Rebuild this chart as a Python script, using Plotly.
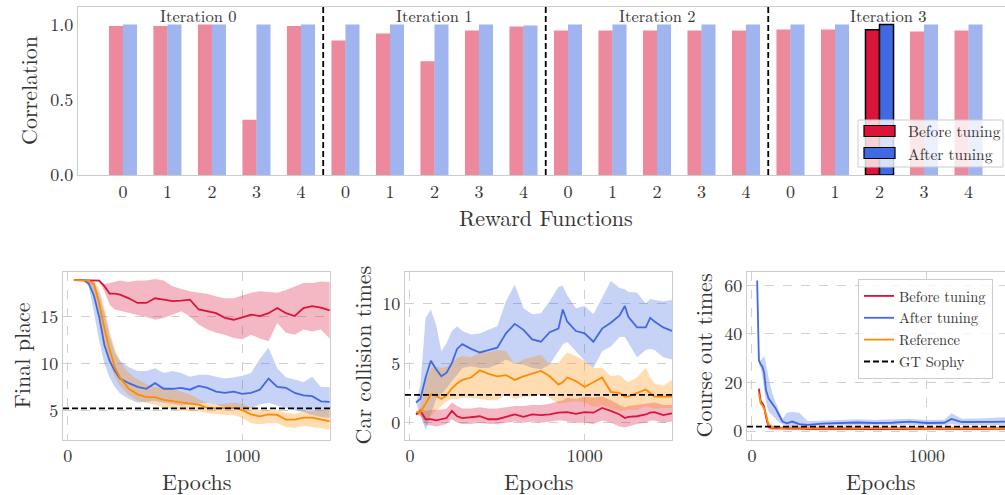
import numpy as np
import plotly.graph_objects as go

W, H = 1005, 495
FONT = "Latin Modern Roman"
TXT = "#333333"
FRAME = "#cccccc"
GRID = "#d0d0d0"

# ---------------- top chart data ----------------
iteration_names = ["Iteration 0", "Iteration 1", "Iteration 2", "Iteration 3"]
reward_fn_labels = ["0", "1", "2", "3", "4"]
corr_before = [0.99, 0.99, 1.0, 0.367, 0.99,
               0.894, 0.94, 0.755, 0.96, 0.987,
               0.96, 0.96, 0.96, 0.96, 0.96,
               0.967, 0.967, 0.965, 0.954, 0.96]
corr_after = [1.0, 1.0, 1.0, 1.0, 1.0,
              1.0, 1.0, 1.0, 1.0, 0.993,
              1.0, 1.0, 1.0, 1.0, 1.0,
              1.0, 1.0, 1.0, 1.0, 1.0]
highlight = (3, 2)  # (iteration, reward function)
iter_label_x = [1.7, 7.0, 12.02, 17.21]

# ---------------- bottom panels data ----------------
# Panel 1: Final place
ep1 = [35, 60, 90, 120, 150, 180, 210, 240, 270, 300, 350, 400, 450, 500, 550, 600, 650,
       700, 750, 800, 850, 900, 950, 1000, 1050, 1100, 1150, 1200, 1250, 1300, 1350, 1400, 1450, 1500]
fp_before = [18.95, 18.95, 18.95, 18.95, 18.95, 18.9, 18.3, 17.5, 17.5, 17.4, 17.0, 16.5, 16.5, 17.0,
             16.85, 16.7, 16.75, 16.85, 15.8, 15.6, 15.4, 14.9, 14.7, 14.95, 15.25, 15.1, 15.4, 15.95,
             15.4, 15.1, 15.95, 16.15, 16.0, 15.7]
fp_before_hi = [18.95, 18.95, 18.95, 18.95, 18.95, 19.0, 18.5, 18.65, 18.8, 18.9, 18.75, 18.9, 18.9, 19.07,
                18.9, 18.3, 18.0, 17.75, 17.6, 17.5, 17.2, 17.0, 17.0, 17.3, 17.6, 17.75, 17.7, 17.6,
                17.9, 18.3, 18.65, 18.65, 18.8, 18.75]
fp_before_lo = [18.95, 18.95, 18.95, 18.95, 18.9, 18.8, 17.75, 16.3, 15.8, 15.6, 15.4, 15.2, 15.0, 14.7,
                14.9, 15.25, 15.6, 15.05, 14.2, 13.65, 13.3, 13.1, 12.75, 12.6, 13.1, 12.7, 12.4, 14.35,
                13.3, 13.1, 13.65, 13.45, 13.65, 12.7]
fp_after = [18.95, 18.95, 18.95, 18.6, 17.3, 15.0, 12.0, 10.3, 9.2, 8.4, 7.9, 7.5, 7.3, 7.9, 7.3, 7.3,
            7.4, 7.2, 7.6, 7.4, 7.0, 6.85, 7.0, 6.75, 6.85, 7.2, 8.4, 7.5, 7.4, 6.85, 6.6, 6.5, 5.95, 5.9]
fp_after_hi = [18.95, 18.95, 19.0, 19.0, 18.8, 17.5, 15.5, 13.0, 11.2, 10.3, 9.6, 9.2, 9.2, 9.5, 9.0, 9.2,
               9.0, 8.6, 8.8, 8.8, 8.6, 8.4, 8.5, 8.7, 9.0, 10.5, 11.7, 9.5, 8.5, 8.3, 8.0, 8.6, 7.5, 7.5]
fp_after_lo = [18.95, 18.95, 18.9, 18.3, 15.5, 12.5, 10.0, 8.5, 7.5, 6.8, 6.2, 5.8, 5.9, 6.0, 5.8, 5.7,
               5.5, 5.6, 5.7, 5.8, 5.6, 5.3, 5.3, 5.1, 5.2, 5.6, 5.8, 5.5, 5.3, 5.0, 4.8, 4.5, 4.3, 4.2]
fp_ref = [18.95, 18.95, 18.95, 18.9, 18.5, 16.5, 13.8, 11.5, 9.6, 8.5, 7.3, 6.7, 6.4, 6.4, 6.1, 5.95,
          5.8, 5.7, 5.6, 5.25, 5.2, 5.25, 5.25, 5.0, 4.55, 4.35, 4.55, 4.5, 4.0, 4.0, 4.2, 4.2, 4.0, 3.8]
fp_ref_hi = [18.95, 18.95, 19.0, 19.0, 19.0, 18.0, 16.0, 13.5, 11.5, 10.2, 9.0, 8.3, 7.8, 7.5, 7.4, 7.3,
             7.0, 6.7, 6.2, 5.8, 5.6, 5.7, 5.8, 5.7, 5.3, 5.0, 5.0, 5.0, 4.7, 4.6, 4.9, 4.9, 5.0, 5.2]
fp_ref_lo = [18.95, 18.95, 18.9, 18.8, 17.5, 15.0, 12.0, 10.0, 8.6, 7.6, 6.6, 6.0, 5.8, 5.6, 5.3, 5.1,
             5.0, 4.9, 4.9, 4.7, 4.6, 4.5, 4.5, 4.2, 3.6, 3.5, 3.6, 3.6, 3.2, 3.1, 3.3, 3.2, 3.1, 2.9]

# Panel 2: Car collision times
ep2 = [35, 60, 90, 120, 150, 180, 210, 240, 270, 300, 350, 400, 450, 500, 550, 600, 650, 700, 750,
       800, 850, 875, 900, 950, 1000, 1050, 1100, 1150, 1200, 1230, 1250, 1300, 1350, 1375, 1400, 1450, 1500]
cc_after = [1.7, 2.0, 3.8, 5.2, 4.5, 3.9, 4.2, 5.0, 6.2, 6.6, 6.2, 5.9, 6.1, 6.3, 7.5, 8.3, 7.8, 7.0, 6.8,
            7.6, 7.9, 9.5, 8.5, 7.7, 7.5, 6.8, 7.9, 8.4, 9.0, 9.8, 8.9, 8.0, 8.0, 8.8, 8.5, 8.0, 7.7]
cc_after_hi = [1.7, 3.2, 8.8, 9.5, 8.2, 6.0, 6.7, 7.7, 8.1, 7.7, 7.4, 7.5, 7.8, 8.1, 10.2, 11.6, 9.6, 9.1,
               9.2, 10.2, 11.4, 11.5, 10.7, 9.6, 9.8, 9.1, 10.5, 11.9, 11.3, 11.2, 11.0, 10.9, 10.0,
               10.4, 10.3, 10.2, 10.3]
cc_after_lo = [1.7, 0.7, -0.6, 0.7, 2.0, 2.4, 2.9, 3.5, 4.0, 4.6, 4.75, 4.6, 4.6, 4.9, 5.3, 5.0, 4.9, 4.6,
               4.5, 4.9, 6.0, 6.6, 6.8, 6.0, 5.2, 4.6, 6.0, 6.4, 7.2, 7.2, 6.8, 5.5, 6.1, 6.2, 6.1, 5.5, 5.3]
cc_ref = [0.9, 0.9, 1.6, 2.4, 2.3, 2.0, 2.3, 2.9, 3.3, 3.6, 3.8, 4.4, 4.1, 3.9, 4.0, 3.6, 3.9, 4.1, 4.35,
          3.9, 3.2, 3.4, 3.8, 3.5, 3.0, 3.4, 3.8, 2.6, 2.5, 2.2, 2.2, 2.5, 2.8, 2.5, 2.2, 2.2, 2.2]
cc_ref_hi = [0.9, 1.5, 3.5, 4.6, 4.7, 4.6, 4.7, 5.0, 5.45, 5.6, 5.5, 5.9, 5.9, 6.1, 6.0, 4.9, 5.3, 5.5, 5.7,
             4.9, 5.0, 5.5, 5.9, 5.6, 5.2, 4.6, 4.6, 3.9, 4.0, 3.6, 3.4, 3.8, 4.6, 3.8, 3.3, 3.1, 3.6]
cc_ref_lo = [0.9, 0.6, 0.1, 0.6, 1.0, 1.4, 1.8, 2.0, 2.0, 2.1, 2.1, 2.0, 1.9, 1.9, 2.4, 2.0, 2.2, 2.2, 2.4,
             2.1, 1.6, 1.6, 1.7, 1.8, 1.7, 1.3, 1.5, 1.2, 1.0, 1.0, 1.1, 1.1, 1.4, 1.3, 1.2, 1.2, 1.25]
cc_before = [0.7, 1.0, 0.3, 0.3, 0.2, 0.3, 0.4, 1.0, 0.55, 0.4, 0.45, 0.55, 0.3, 0.3, 0.5, 0.7, 0.5, 0.7,
             0.65, 0.7, 0.85, 0.9, 0.9, 0.75, 0.9, 0.85, 1.25, 1.0, 0.7, 0.4, 0.5, 0.55, 0.7, 0.85, 0.9,
             0.65, 0.8]
cc_before_hi = [0.7, 1.2, 1.0, 1.1, 1.1, 1.1, 1.2, 1.7, 1.4, 1.2, 1.2, 1.3, 1.2, 1.2, 1.3, 1.4, 1.4, 1.5,
                1.5, 1.6, 1.8, 1.9, 2.1, 2.0, 2.2, 2.1, 2.2, 1.9, 1.5, 1.3, 1.4, 1.5, 1.6, 1.6, 1.7, 1.5, 1.5]
cc_before_lo = [0.7, 0.6, -0.2, -0.2, -0.3, -0.2, -0.1, 0.3, 0.0, -0.1, -0.1, 0.0, -0.1, -0.1, 0.0, 0.1,
                0.0, 0.1, 0.0, 0.1, 0.2, 0.2, 0.1, 0.0, 0.0, -0.1, 0.2, 0.0, -0.3, -0.4, -0.3, -0.1, 0.0,
                0.2, 0.2, 0.0, 0.1]

# Panel 3: Course out times
ep3_after = [30, 40, 50, 60, 70, 80, 95, 115, 135, 155, 175, 200, 230, 270, 320, 400, 500, 600, 700,
             800, 900, 1000, 1100, 1140, 1200, 1300, 1400, 1500]
co_after = [62, 29, 27.5, 26.5, 24, 17, 13.5, 11.4, 9.4, 6.6, 3.9, 3.2, 3.9, 2.8, 2.5, 3.0, 3.3, 3.5,
            3.3, 3.4, 3.9, 3.3, 3.4, 5.0, 3.7, 3.6, 3.8, 4.0]
co_after_hi = [62, 30, 29, 30, 31, 28, 22, 16, 12, 8, 5, 7.5, 7.8, 7.5, 4.0, 4.3, 4.5, 4.8, 4.5, 4.6,
               5.0, 4.5, 4.6, 7.3, 5.0, 5.2, 5.6, 5.9]
co_after_lo = [62, 28, 26, 22, 18, 12, 8, 6.6, 5.0, 3.5, 2.8, 2.2, 2.2, 2.0, 1.8, 2.2, 2.4, 2.4, 2.3,
               2.4, 2.6, 2.3, 2.4, 2.8, 2.5, 2.4, 2.5, 2.5]
ep3 = [40, 50, 60, 70, 80, 95, 115, 135, 155, 175, 200, 230, 270, 320, 400, 500, 600, 700, 800, 900,
       1000, 1100, 1200, 1300, 1400, 1500]
co_before = [17.5, 12.3, 11.4, 10.0, 6.0, 1.8, 1.3, 1.2, 1.1, 1.0, 1.1, 1.2, 1.0, 0.9, 1.0, 1.1, 0.9,
             0.8, 1.0, 0.9, 1.0, 0.9, 1.0, 0.9, 1.0, 1.0]
co_before_hi = [17.5, 12.5, 11.8, 10.5, 7.5, 3.5, 2.3, 2.0, 1.9, 1.8, 2.0, 2.0, 1.8, 1.6, 1.7, 1.8, 1.6,
                1.5, 1.7, 1.6, 1.7, 1.6, 1.7, 1.6, 1.7, 1.7]
co_before_lo = [17.5, 12.0, 11.0, 9.5, 4.5, 0.5, 0.3, 0.3, 0.3, 0.3, 0.3, 0.4, 0.3, 0.2, 0.3, 0.4, 0.2,
                0.1, 0.3, 0.2, 0.3, 0.2, 0.3, 0.2, 0.3, 0.3]
co_ref = [15.5, 11.4, 10.5, 9.2, 7.0, 2.5, 1.5, 1.3, 1.2, 1.2, 1.3, 1.4, 1.3, 1.2, 1.3, 1.3, 1.2, 1.1,
          1.2, 1.2, 1.2, 1.2, 1.3, 1.2, 1.2, 1.2]
co_ref_hi = [15.5, 11.6, 10.9, 9.7, 8.0, 3.8, 2.5, 2.2, 2.0, 2.0, 2.1, 2.3, 2.1, 2.0, 2.0, 2.0, 1.9, 1.8,
             1.9, 1.9, 1.9, 1.9, 2.0, 1.9, 1.9, 1.9]
co_ref_lo = [15.5, 11.2, 10.1, 8.7, 6.0, 1.3, 0.6, 0.5, 0.5, 0.5, 0.6, 0.6, 0.6, 0.5, 0.6, 0.6, 0.5, 0.4,
             0.5, 0.5, 0.5, 0.5, 0.6, 0.5, 0.5, 0.5]

gt_sophy = [5.2, 2.35, 1.8]
method_names = ["Before tuning", "After tuning", "Reference", "GT Sophy"]
panel_titles = ["Final place", "Car collision times", "Course out times"]
x_title_top, y_title_top, x_title_bottom = "Reward Functions", "Correlation", "Epochs"

# ---------------- styling ----------------
C_RED, C_BLUE, C_ORANGE = "#DC143C", "#4169E1", "#FF8C00"
def rgba(hexc, a):
    h = hexc.lstrip("#")
    return "rgba(%d,%d,%d,%.2f)" % (int(h[0:2], 16), int(h[2:4], 16), int(h[4:6], 16), a)

def px_x(p):
    return p / W

def px_y(p):
    return 1 - p / H

fig = go.Figure()

# ---- top bar chart ----
n_fn = len(reward_fn_labels)
pos = np.arange(len(corr_before))
hl = highlight[0] * n_fn + highlight[1]
col_before = [rgba(C_RED, 0.5)] * len(pos)
col_after = [rgba(C_BLUE, 0.5)] * len(pos)
col_before[hl] = C_RED
col_after[hl] = C_BLUE
edge_w = [0] * len(pos)
edge_w[hl] = 1.5

fig.add_trace(go.Bar(x=pos, y=corr_before, name="Before tuning", showlegend=False,
                     marker=dict(color=col_before, line=dict(color="black", width=edge_w)),
                     xaxis="x", yaxis="y"))
fig.add_trace(go.Bar(x=pos, y=corr_after, name="After tuning", showlegend=False,
                     marker=dict(color=col_after, line=dict(color="black", width=edge_w)),
                     xaxis="x", yaxis="y"))

shapes = []
annotations = []
for i in range(1, len(iteration_names)):
    shapes.append(dict(type="line", xref="x", yref="y domain", x0=i * n_fn - 0.5, x1=i * n_fn - 0.5,
                       y0=0, y1=1, line=dict(color="black", width=1.8, dash="6px,3px")))
for name, xl in zip(iteration_names, iter_label_x):
    annotations.append(dict(text=name, x=xl, y=1.06, xref="x", yref="y", showarrow=False,
                            xanchor="center", yanchor="middle",
                            font=dict(family=FONT, size=16.5, color=TXT)))

# custom legend for bar chart
shapes.append(dict(type="rect", xref="paper", yref="paper", x0=px_x(858), x1=px_x(1003),
                   y0=px_y(167), y1=px_y(120), fillcolor="rgba(255,255,255,0.8)",
                   line=dict(color=FRAME, width=1), layer="above"))
for k, (lab, col) in enumerate([("Before tuning", C_RED), ("After tuning", C_BLUE)]):
    yc = 131 + 22 * k
    shapes.append(dict(type="rect", xref="paper", yref="paper", x0=px_x(864), x1=px_x(895),
                       y0=px_y(yc + 5.5), y1=px_y(yc - 5.5), fillcolor=col,
                       line=dict(color="black", width=1.2), layer="above"))
    annotations.append(dict(text=lab, x=px_x(906), y=px_y(yc), xref="paper", yref="paper",
                            xanchor="left", yanchor="middle", showarrow=False,
                            font=dict(family=FONT, size=15.5, color=TXT)))

# axis titles (placed as annotations for precise positioning)
titlefont = dict(family=FONT, size=22, color=TXT)
annotations.append(dict(text=x_title_top, x=px_x(546), y=px_y(217), xref="paper", yref="paper",
                        xanchor="center", yanchor="middle", showarrow=False, font=titlefont))
annotations.append(dict(text=y_title_top, x=px_x(28), y=px_y(91), xref="paper", yref="paper",
                        xanchor="center", yanchor="middle", showarrow=False, textangle=-90,
                        font=titlefont))
y_title_x = [20, 361, 702]
x_title_x = [196.5, 538.5, 880.5]
for p in range(3):
    annotations.append(dict(text=panel_titles[p], x=px_x(y_title_x[p]), y=px_y(355.5),
                            xref="paper", yref="paper", xanchor="center", yanchor="middle",
                            showarrow=False, textangle=-90, font=titlefont))
    annotations.append(dict(text=x_title_bottom, x=px_x(x_title_x[p]), y=px_y(480),
                            xref="paper", yref="paper", xanchor="center", yanchor="middle",
                            showarrow=False, font=titlefont))

# ---- bottom panels ----
panels = [
    [(ep1, fp_before, fp_before_lo, fp_before_hi), (ep1, fp_after, fp_after_lo, fp_after_hi),
     (ep1, fp_ref, fp_ref_lo, fp_ref_hi)],
    [(ep2, cc_before, cc_before_lo, cc_before_hi), (ep2, cc_after, cc_after_lo, cc_after_hi),
     (ep2, cc_ref, cc_ref_lo, cc_ref_hi)],
    [(ep3, co_before, co_before_lo, co_before_hi), (ep3_after, co_after, co_after_lo, co_after_hi),
     (ep3, co_ref, co_ref_lo, co_ref_hi)],
]
colors = [C_RED, C_BLUE, C_ORANGE]
x_ranges = [[-27, 1502], [-28, 1500], [-28, 1446]]
y_ranges = [[1.86, 19.82], [-1.4, 12.65], [-3.5, 65.5]]

for p, series in enumerate(panels):
    xa = "x%d" % (p + 2)
    ya = "y%d" % (p + 2)
    for (ep, m, lo, hi), c in zip(series, colors):
        fig.add_trace(go.Scatter(x=list(ep) + list(ep)[::-1], y=list(hi) + list(lo)[::-1],
                                 fill="toself", fillcolor=rgba(c, 0.3), line=dict(width=0),
                                 mode="lines", hoverinfo="skip", showlegend=False,
                                 xaxis=xa, yaxis=ya))
    for k, ((ep, m, lo, hi), c) in enumerate(zip(series, colors)):
        fig.add_trace(go.Scatter(x=ep, y=m, mode="lines", line=dict(color=c, width=1.8),
                                 name=method_names[k], showlegend=(p == 0),
                                 xaxis=xa, yaxis=ya))
    fig.add_trace(go.Scatter(x=x_ranges[p], y=[gt_sophy[p], gt_sophy[p]], mode="lines",
                             line=dict(color="black", width=1.8, dash="6px,3px"),
                             name=method_names[3], showlegend=(p == 0), xaxis=xa, yaxis=ya))

axfont = dict(family=FONT, size=18, color=TXT)

layout = dict(
    width=W, height=H, autosize=False,
    margin=dict(l=0, r=0, t=0, b=0, autoexpand=False),
    paper_bgcolor="white", plot_bgcolor="white",
    font=dict(family=FONT, color=TXT),
    barmode="group", bargap=0.37, bargroupgap=0,
    showlegend=True,
    legend=dict(x=px_x(858), y=px_y(279), xanchor="left", yanchor="top",
                bgcolor="rgba(255,255,255,0.8)", bordercolor=FRAME, borderwidth=1,
                font=dict(family=FONT, size=14.5, color=TXT), tracegroupgap=0),
    shapes=shapes, annotations=annotations,
    xaxis=dict(domain=[px_x(78), 1.0], range=[-1.01, 19.82], tickmode="array",
               tickvals=pos, ticktext=reward_fn_labels * len(iteration_names),
               showgrid=False, zeroline=False, showline=True, linecolor=FRAME, linewidth=1.3,
               mirror=True, ticks="", tickfont=axfont, automargin=False),
    yaxis=dict(domain=[px_y(175), px_y(7)], range=[0, 1.116], tickmode="array",
               tickvals=[0, 0.5, 1.0], ticktext=["0.0", "0.5", "1.0"],
               showgrid=False, zeroline=False, showline=True, linecolor=FRAME, linewidth=1.3,
               ticks="", tickfont=axfont, automargin=False),
)

x_domains = [[px_x(63), px_x(330)], [px_x(405), px_x(672)], [px_x(747), 1.0]]
y_ticks = [[5, 10, 15], [0, 5, 10], [0, 20, 40, 60]]
for p in range(3):
    layout["xaxis%d" % (p + 2)] = dict(
        domain=x_domains[p], range=x_ranges[p], anchor="y%d" % (p + 2),
        tickvals=[0, 1000], ticktext=["0", "1000"],
        showgrid=True, gridcolor=GRID, griddash="dash", gridwidth=1,
        zeroline=False, showline=True, linecolor=FRAME, linewidth=1.3, mirror=True,
        ticks="", tickfont=axfont, automargin=False)
    layout["yaxis%d" % (p + 2)] = dict(
        domain=[px_y(439.5), px_y(272)], range=y_ranges[p], anchor="x%d" % (p + 2),
        tickvals=y_ticks[p],
        showgrid=True, gridcolor=GRID, griddash="dash", gridwidth=1,
        zeroline=False, showline=True, linecolor=FRAME, linewidth=1.3, mirror=(p < 2),
        ticks="", tickfont=axfont, automargin=False)

fig.update_layout(**layout)
fig.write_html("out.html", config={"displayModeBar": False},
               post_script="document.body.style.margin='0px';")
